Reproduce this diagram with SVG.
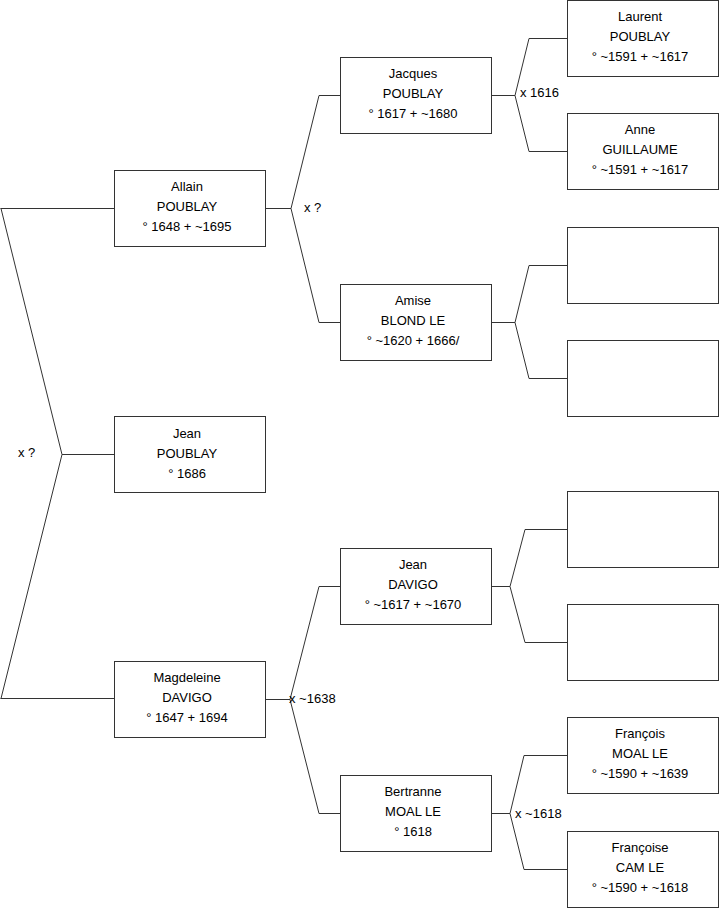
<svg xmlns="http://www.w3.org/2000/svg" width="719" height="908" viewBox="0 0 719 908">
<style>
rect{fill:#fff;stroke:#333;stroke-width:1}
.c path{fill:none;stroke:#333;stroke-width:1}
text{font-family:"Liberation Sans",Arial,sans-serif;font-size:13px;fill:#000}
.n text{text-anchor:middle}
</style>
<rect x="0" y="0" width="719" height="908" style="stroke:none"/>
<g class="c">
<path d="M0.5,208.5H114M1,208.5L62,454.5L1,698.5M0.5,698.5H114M62,454.5H114"/>
<path d="M265,208.5H291L319,95.5H340M291,208.5L319,322.5H340"/>
<path d="M491,95.5H515L529,38.5H567M515,95.5L529,151.5H567"/>
<path d="M491,322.5H515L529,265.5H567M515,322.5L529,378.5H567"/>
<path d="M265,699.5H290L319,586.5H340M290,699.5L319,813.5H340"/>
<path d="M491,586.5H510L525,529.5H567M510,586.5L525,642.5H567"/>
<path d="M491,813.5H510L524,755.5H567M510,813.5L524,869.5H567"/>
<text x="304" y="212">x ?</text>
<text x="520" y="97">x 1616</text>
<text x="18" y="457">x ?</text>
<text x="289" y="703">x ~1638</text>
<text x="515" y="818">x ~1618</text>
</g>
<g id="allain" class="n"><rect x="114.5" y="170.5" width="151" height="76"/><text x="187" y="191">Allain</text><text x="187" y="211">POUBLAY</text><text x="187" y="231">° 1648 + ~1695</text></g>
<g id="jean1" class="n"><rect x="114.5" y="416.5" width="151" height="76"/><text x="187" y="438">Jean</text><text x="187" y="458">POUBLAY</text><text x="187" y="478">° 1686</text></g>
<g id="magdeleine" class="n"><rect x="114.5" y="661.5" width="151" height="76"/><text x="187" y="682">Magdeleine</text><text x="187" y="702">DAVIGO</text><text x="187" y="722">° 1647 + 1694</text></g>
<g id="jacques" class="n"><rect x="340.5" y="57.5" width="151" height="76"/><text x="413" y="78">Jacques</text><text x="413" y="98">POUBLAY</text><text x="413" y="118">° 1617 + ~1680</text></g>
<g id="amise" class="n"><rect x="340.5" y="284.5" width="151" height="76"/><text x="413" y="305">Amise</text><text x="413" y="325">BLOND LE</text><text x="413" y="345">° ~1620 + 1666/</text></g>
<g id="jeandavigo" class="n"><rect x="340.5" y="548.5" width="151" height="76"/><text x="413" y="569">Jean</text><text x="413" y="589">DAVIGO</text><text x="413" y="609">° ~1617 + ~1670</text></g>
<g id="bertranne" class="n"><rect x="340.5" y="775.5" width="151" height="76"/><text x="413" y="796">Bertranne</text><text x="413" y="816">MOAL LE</text><text x="413" y="836">° 1618</text></g>
<g id="laurent" class="n"><rect x="567.5" y="0.5" width="151" height="76"/><text x="640" y="21">Laurent</text><text x="640" y="41">POUBLAY</text><text x="640" y="61">° ~1591 + ~1617</text></g>
<g id="anne" class="n"><rect x="567.5" y="113.5" width="151" height="76"/><text x="640" y="134">Anne</text><text x="640" y="154">GUILLAUME</text><text x="640" y="174">° ~1591 + ~1617</text></g>
<g id="empty1" class="n"><rect x="567.5" y="227.5" width="151" height="76"/></g>
<g id="empty2" class="n"><rect x="567.5" y="340.5" width="151" height="76"/></g>
<g id="empty3" class="n"><rect x="567.5" y="491.5" width="151" height="76"/></g>
<g id="empty4" class="n"><rect x="567.5" y="604.5" width="151" height="76"/></g>
<g id="francois" class="n"><rect x="567.5" y="717.5" width="151" height="76"/><text x="640" y="738">François</text><text x="640" y="758">MOAL LE</text><text x="640" y="778">° ~1590 + ~1639</text></g>
<g id="francoise" class="n"><rect x="567.5" y="831.5" width="151" height="76"/><text x="640" y="852">Françoise</text><text x="640" y="872">CAM LE</text><text x="640" y="892">° ~1590 + ~1618</text></g>
</svg>
